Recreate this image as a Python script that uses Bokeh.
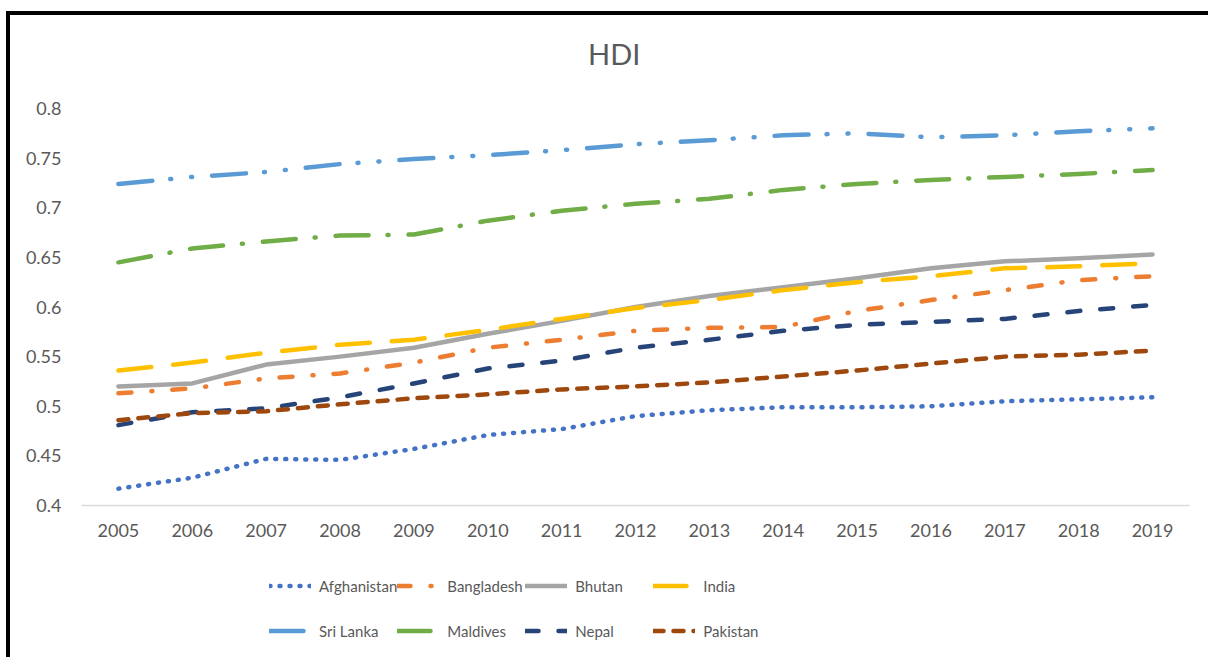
from bokeh.plotting import figure
from bokeh.layouts import column
from bokeh.models import FixedTicker, Range1d, Legend, LegendItem, Div
from bokeh.embed import file_html
from bokeh.resources import INLINE

years = list(range(2005, 2020))
afghanistan = [0.417, 0.428, 0.447, 0.446, 0.457, 0.471, 0.477, 0.490, 0.496, 0.499, 0.499, 0.500, 0.505, 0.507, 0.509]
bangladesh = [0.513, 0.518, 0.528, 0.533, 0.544, 0.559, 0.567, 0.576, 0.579, 0.580, 0.596, 0.607, 0.617, 0.627, 0.631]
bhutan = [0.520, 0.523, 0.542, 0.550, 0.559, 0.573, 0.586, 0.600, 0.611, 0.620, 0.629, 0.639, 0.646, 0.649, 0.653]
india = [0.536, 0.544, 0.554, 0.562, 0.567, 0.577, 0.588, 0.599, 0.607, 0.617, 0.625, 0.631, 0.639, 0.641, 0.644]
sri_lanka = [0.724, 0.731, 0.736, 0.744, 0.749, 0.753, 0.758, 0.764, 0.768, 0.773, 0.775, 0.771, 0.773, 0.777, 0.780]
maldives = [0.645, 0.659, 0.666, 0.672, 0.673, 0.687, 0.697, 0.704, 0.709, 0.718, 0.724, 0.728, 0.731, 0.734, 0.738]
nepal = [0.481, 0.494, 0.498, 0.509, 0.523, 0.538, 0.546, 0.559, 0.567, 0.576, 0.582, 0.585, 0.588, 0.596, 0.602]
pakistan = [0.486, 0.493, 0.495, 0.502, 0.508, 0.512, 0.517, 0.520, 0.524, 0.530, 0.536, 0.543, 0.550, 0.552, 0.556]

series_names = ["Afghanistan", "Bangladesh", "Bhutan", "India", "Sri Lanka", "Maldives", "Nepal", "Pakistan"]
series_values = [afghanistan, bangladesh, bhutan, india, sri_lanka, maldives, nepal, pakistan]
colors = ["#4472C4", "#ED7D31", "#A5A5A5", "#FFC000", "#5B9BD5", "#70AD47", "#264478", "#9E480E"]
dashes = ["1 9", "13 20 1 20", "solid", "33 22", "34 18 1 20 1 20", "33 19 1 20", "13 20", "10 10"]

y_ticks = [0.4, 0.45, 0.5, 0.55, 0.6, 0.65, 0.7, 0.75, 0.8]
y_labels = ["0.4", "0.45", "0.5", "0.55", "0.6", "0.65", "0.7", "0.75", "0.8"]
title_text = "HDI"

FONT = "Lato"
GREY = "#595959"

head = Div(text=('<div style="padding-left:578px;padding-top:24px;font-family:Lato;'
                 'font-size:29px;line-height:1;color:#595959;white-space:nowrap">'
                 + title_text + '</div>'),
           width=1198, height=60, margin=0)

p = figure(width=1198, height=485, output_backend="svg", toolbar_location=None,
           x_range=Range1d(2004.5, 2019.5), y_range=Range1d(0.4, 0.8),
           min_border_left=71, min_border_right=19, min_border_top=33, min_border_bottom=55)
p.outline_line_color = None
p.xgrid.visible = False
p.ygrid.visible = False

p.xaxis.ticker = FixedTicker(ticks=years)
p.xaxis.major_label_overrides = {y: str(y) for y in years}
p.yaxis.ticker = FixedTicker(ticks=y_ticks)
p.yaxis.major_label_overrides = {t: l for t, l in zip(y_ticks, y_labels)}
for ax in (p.xaxis, p.yaxis):
    ax.major_tick_line_color = None
    ax.minor_tick_line_color = None
    ax.major_label_text_font = FONT
    ax.major_label_text_font_size = "18px"
    ax.major_label_text_color = GREY
p.xaxis.axis_line_color = "#D9D9D9"
p.xaxis.axis_line_width = 1.5
p.xaxis.major_label_standoff = 12
p.yaxis.axis_line_color = None
p.yaxis.major_label_standoff = 14

# legend strip below the chart
lf = figure(width=1198, height=97, output_backend="svg", toolbar_location=None,
            x_range=Range1d(0, 1), y_range=Range1d(0, 1),
            min_border_left=0, min_border_right=0, min_border_top=0, min_border_bottom=0)
lf.axis.visible = False
lf.grid.visible = False
lf.outline_line_color = None

items = []
for name, vals, col, dash in zip(series_names, series_values, colors, dashes):
    p.line(years, vals, line_color=col, line_width=4.5, line_dash=dash,
           line_cap="round", line_join="round")
    # same style, data lies outside the strip's range: only its legend entry shows
    r = lf.line(years, vals, line_color=col, line_width=4.5, line_dash=dash,
                line_cap="round", line_join="round")
    items.append(LegendItem(label=name, renderers=[r]))

legend = Legend(items=items, ncols=4, location=(188, 4), orientation="horizontal",
                glyph_width=42, glyph_height=45, label_height=45, label_width=78,
                label_standoff=8, spacing=0, padding=0, margin=0,
                border_line_color=None, background_fill_alpha=0,
                label_text_font=FONT, label_text_font_size="15px", label_text_color=GREY)
lf.add_layout(legend, "center")

layout = column(head, p, lf, spacing=0)
# black frame of the source document (top and left edges)
layout.styles = {"border-top": "4px solid #000", "border-left": "4px solid #000",
                 "margin-top": "11px", "margin-left": "6px"}

open("out.html", "w").write(file_html(layout, INLINE))
